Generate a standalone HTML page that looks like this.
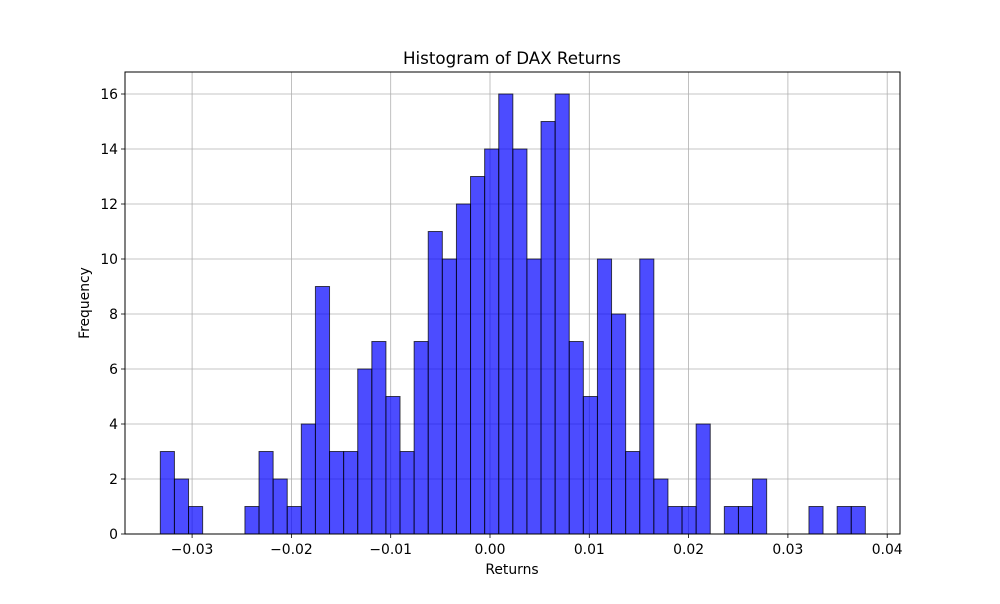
<!DOCTYPE html>
<html><head><meta charset="utf-8"><style>
body{margin:0;background:#fff;font-family:"DejaVu Sans","Liberation Sans",sans-serif}
</style></head><body>
<svg id="chart" width="1000" height="600" xmlns="http://www.w3.org/2000/svg" font-family="DejaVu Sans, Liberation Sans, sans-serif">
<rect width="1000" height="600" fill="#fff"/>
<g id="grid"></g><g id="bars"></g><g id="axes"></g>
<text x="512" y="64" text-anchor="middle" font-size="16.7">Histogram of DAX Returns</text>
<text x="512" y="574" text-anchor="middle" font-size="13.9">Returns</text>
<text transform="translate(89,303) rotate(-90)" text-anchor="middle" font-size="13.9">Frequency</text>
</svg>
<script>
const counts=[3,2,1,0,0,0,1,3,2,1,4,9,3,3,6,7,5,3,7,11,10,12,13,14,16,14,10,15,16,7,5,10,8,3,10,2,1,1,4,0,1,1,2,0,0,0,1,0,1,1];
const binStart=-0.0332, binEnd=0.0378;
const xTicks=[-0.03,-0.02,-0.01,0.00,0.01,0.02,0.03,0.04];
const xTickLabels=["\u22120.03","\u22120.02","\u22120.01","0.00","0.01","0.02","0.03","0.04"];
const yTicks=[0,2,4,6,8,10,12,14,16];
const L=125,R=900,T=72,B=534;
const xs=v=>490+(v-0)*9930;
const ys=v=>534-v*27.5;
const NS="http://www.w3.org/2000/svg";
function mk(tag,attrs,parent){const e=document.createElementNS(NS,tag);for(const k in attrs)e.setAttribute(k,attrs[k]);document.getElementById(parent).appendChild(e);return e;}
xTicks.forEach((t,i)=>{const x=xs(t);
const g=mk('line',{x1:x,x2:x,y1:T,y2:B,stroke:'#b0b0b0','stroke-width':0.8},'grid');


const tk=mk('line',{x1:x,x2:x,y1:B,y2:B+4,stroke:'#000','stroke-width':0.8},'axes');


const tx=mk('text',{x:x,y:B+20,'text-anchor':'middle','font-size':13.9},'axes');tx.textContent=xTickLabels[i];

});
yTicks.forEach(t=>{const y=ys(t);
const g=mk('line',{x1:L,x2:R,y1:y,y2:y,stroke:'#b0b0b0','stroke-width':0.8},'grid');


const tk=mk('line',{x1:L-4,x2:L,y1:y,y2:y,stroke:'#000','stroke-width':0.8},'axes');


const tx=mk('text',{x:L-7,y:y+5,'text-anchor':'end','font-size':13.9},'axes');tx.textContent=t;

});
const w=(binEnd-binStart)/counts.length;
counts.forEach((c,i)=>{const x0=xs(binStart+i*w),x1=xs(binStart+(i+1)*w);
const r=mk('rect',{x:x0,y:ys(c),width:x1-x0,height:ys(0)-ys(c),fill:'#0000ff','fill-opacity':0.7,stroke:'#000','stroke-opacity':0.7,'stroke-width':1},'bars');

});
const f=mk('rect',{x:L,y:T,width:R-L,height:B-T,fill:'none',stroke:'#000','stroke-width':1},'axes');


</script>
</body></html>
